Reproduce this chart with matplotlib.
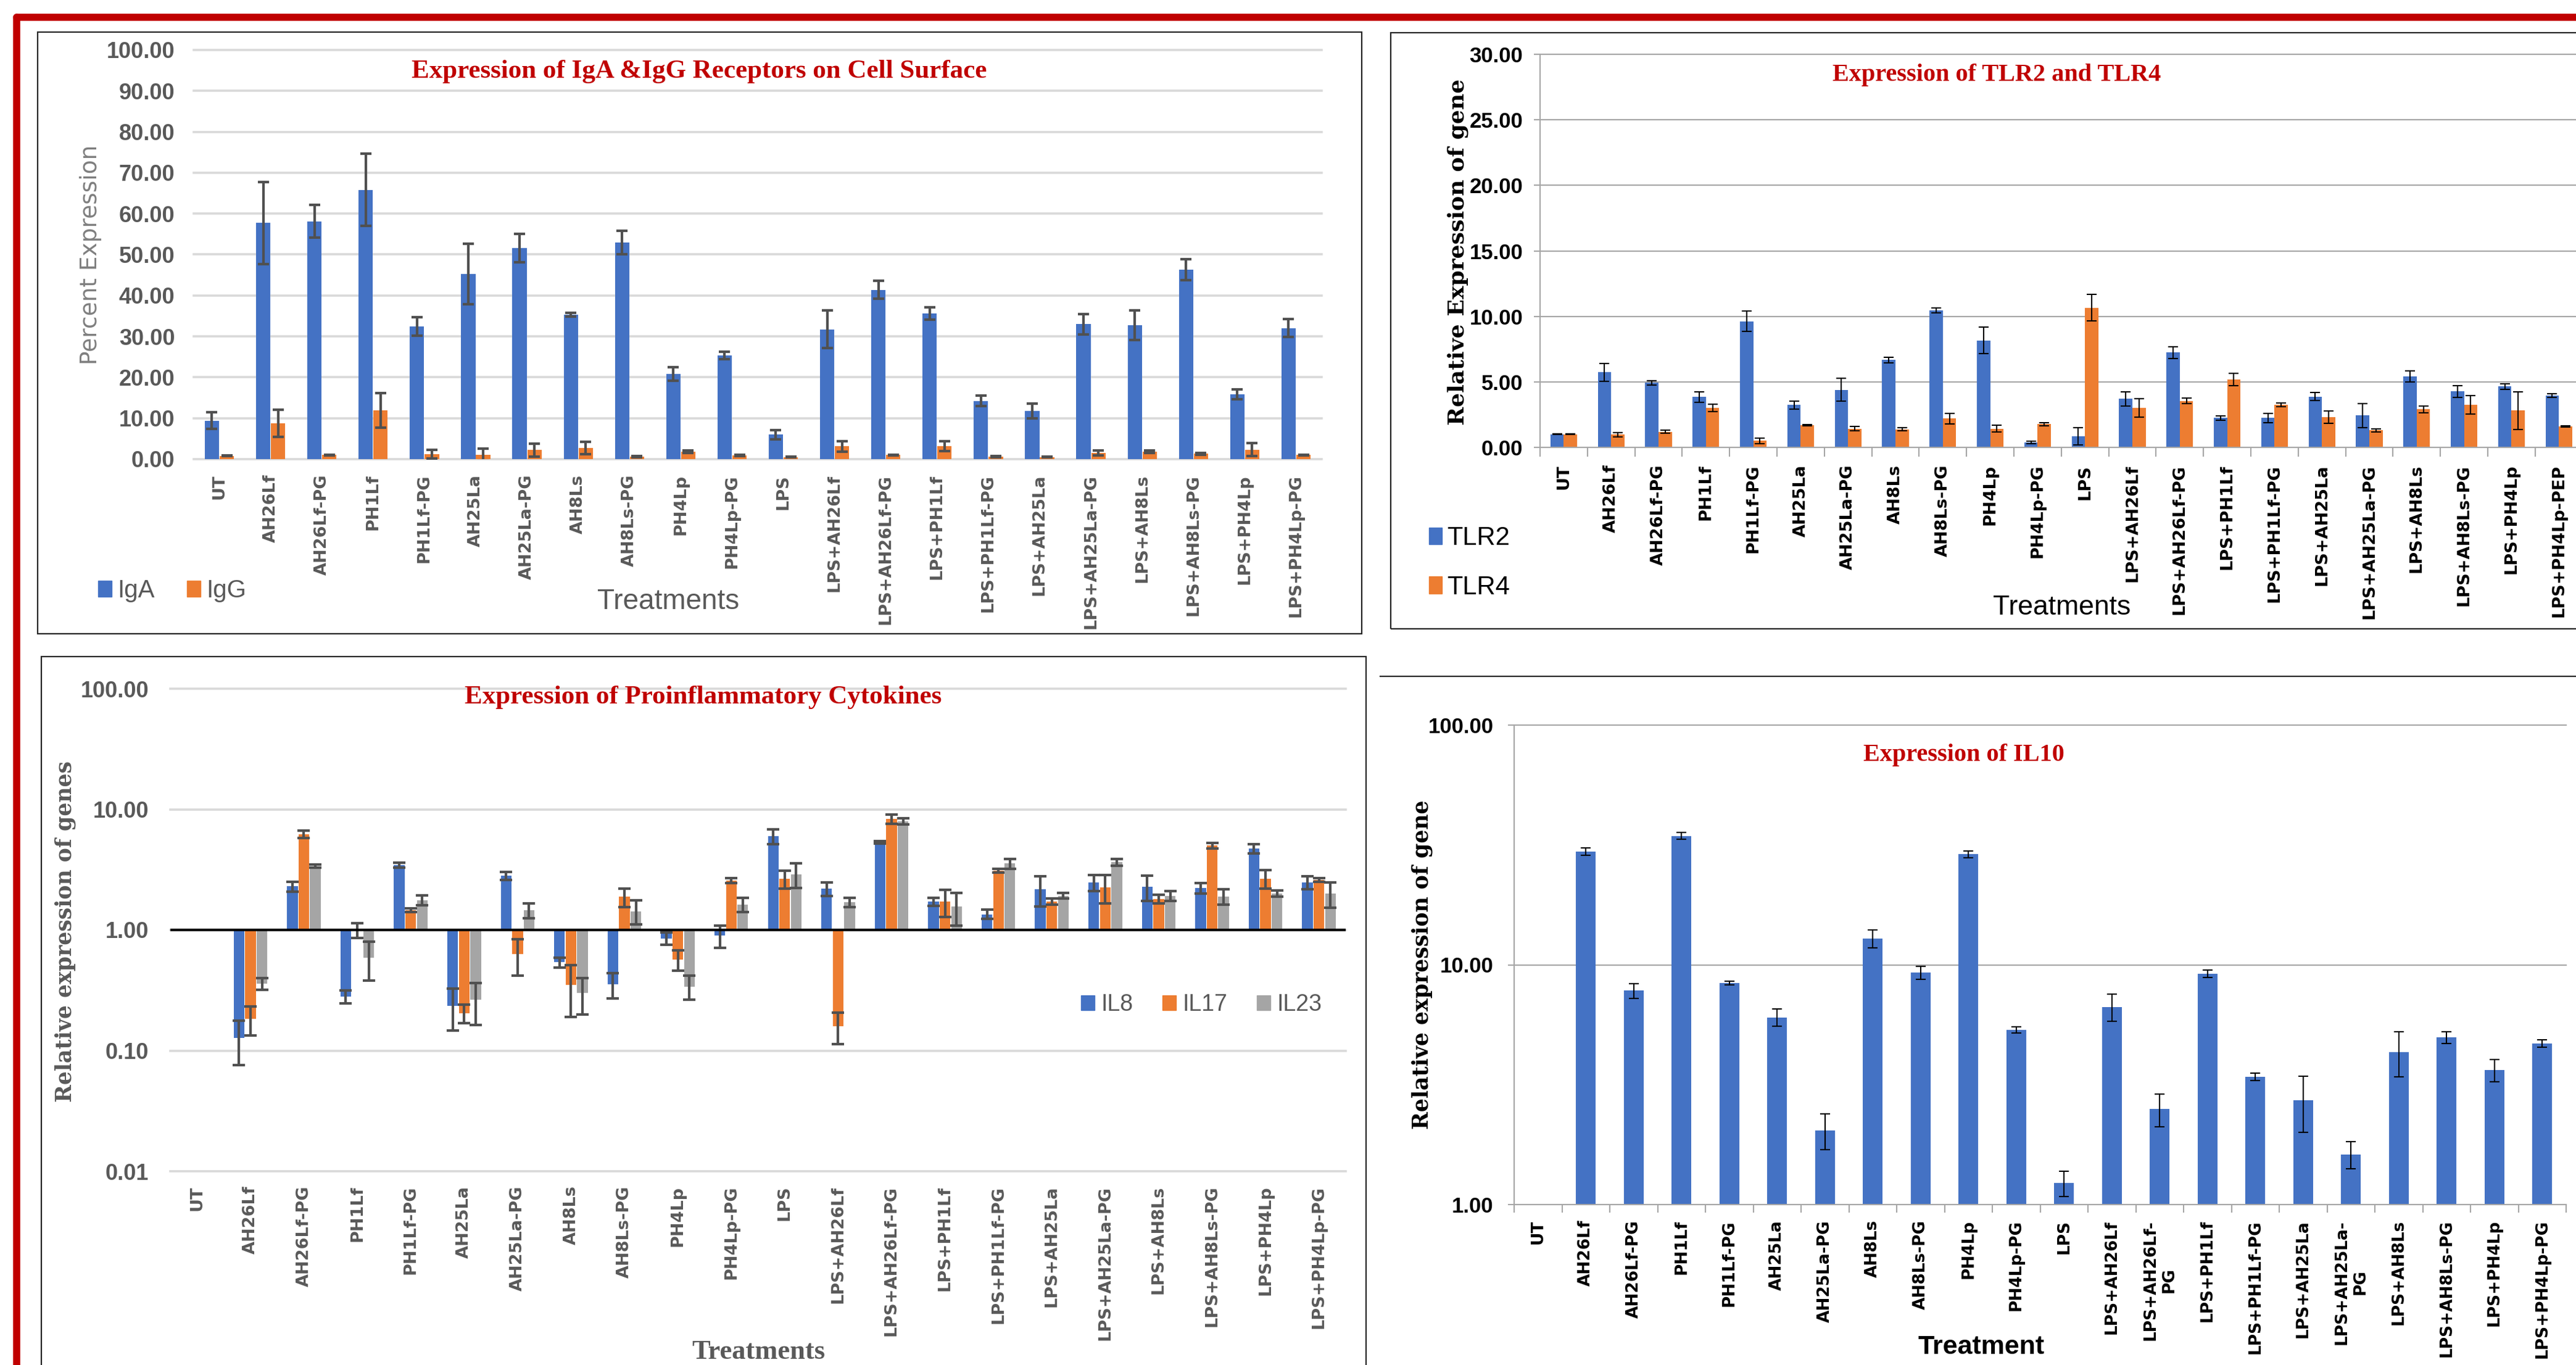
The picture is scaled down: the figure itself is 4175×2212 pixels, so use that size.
import numpy as np
import matplotlib
matplotlib.use("Agg")
import matplotlib.pyplot as plt
from matplotlib.patches import Patch, Rectangle
from matplotlib.lines import Line2D
from matplotlib.ticker import NullLocator, FixedLocator

# treatment groups (x axis of every panel)
treatments = ['UT', 'AH26Lf', 'AH26Lf-PG', 'PH1Lf', 'PH1Lf-PG', 'AH25La', 'AH25La-PG',
              'AH8Ls', 'AH8Ls-PG', 'PH4Lp', 'PH4Lp-PG', 'LPS', 'LPS+AH26Lf',
              'LPS+AH26Lf-PG', 'LPS+PH1Lf', 'LPS+PH1Lf-PG', 'LPS+AH25La',
              'LPS+AH25La-PG', 'LPS+AH8Ls', 'LPS+AH8Ls-PG', 'LPS+PH4Lp', 'LPS+PH4Lp-PG']
treatments_tlr = treatments[:-1] + ['LPS+PH4Lp-PEP']
treatments_il10 = [t.replace('LPS+AH26Lf-PG', 'LPS+AH26Lf-\nPG').replace('LPS+AH25La-PG', 'LPS+AH25La-\nPG')
                   for t in treatments]

# IgA / IgG receptors (percent expression)
iga = [9.4, 57.7, 58.1, 65.8, 32.4, 45.3, 51.6, 35.3, 52.9, 20.8, 25.4, 6.0, 31.7, 41.4,
       35.6, 14.2, 11.8, 33.0, 32.7, 46.3, 15.9, 32.0]
iga_err = [2.0, 10.0, 4.0, 8.8, 2.3, 7.4, 3.5, 0.5, 2.9, 1.6, 0.9, 1.1, 4.6, 2.2, 1.5, 1.3,
           1.8, 2.5, 3.6, 2.5, 1.2, 2.2]
igg = [0.8, 8.7, 1.0, 11.9, 1.2, 1.0, 2.2, 2.7, 0.6, 1.8, 0.9, 0.5, 3.1, 1.0, 3.2, 0.6,
       0.5, 1.5, 1.8, 1.3, 2.3, 1.0]
igg_err = [0.1, 3.3, 0.1, 4.2, 1.0, 1.5, 1.6, 1.5, 0.1, 0.3, 0.1, 0.1, 1.3, 0.1, 1.2, 0.1,
           0.1, 0.6, 0.3, 0.2, 1.6, 0.1]

# TLR2 / TLR4 relative expression
tlr2 = [1.0, 5.74, 4.93, 3.84, 9.63, 3.24, 4.40, 6.67, 10.45, 8.17, 0.37, 0.84, 3.71, 7.23,
        2.24, 2.24, 3.87, 2.43, 5.43, 4.27, 4.65, 3.96]
tlr2_err = [0.03, 0.68, 0.15, 0.40, 0.78, 0.30, 0.87, 0.20, 0.20, 1.00, 0.10, 0.65, 0.55,
            0.45, 0.15, 0.35, 0.30, 0.90, 0.43, 0.45, 0.20, 0.15]
tlr4 = [1.0, 0.97, 1.20, 3.02, 0.50, 1.68, 1.43, 1.37, 2.21, 1.43, 1.78, 10.66, 3.02, 3.55,
        5.18, 3.24, 2.31, 1.31, 2.90, 3.24, 2.81, 1.62]
tlr4_err = [0.03, 0.15, 0.10, 0.30, 0.22, 0.05, 0.15, 0.12, 0.40, 0.25, 0.12, 1.00, 0.70,
            0.20, 0.45, 0.15, 0.45, 0.12, 0.25, 0.70, 1.43, 0.05]

# proinflammatory cytokines (log scale, UT = 1)
il8 = [1.0, 0.127, 2.3, 0.28, 3.45, 0.236, 2.82, 0.54, 0.355, 0.85, 0.9, 6.0, 2.2, 5.33,
       1.71, 1.35, 2.17, 2.47, 2.28, 2.23, 4.73, 2.47]
il8_err = [0, 0.051, 0.22, 0.035, 0.15, 0.09, 0.21, 0.05, 0.085, 0.1, 0.19, 0.85, 0.28, 0.1,
           0.13, 0.12, 0.6, 0.38, 0.55, 0.23, 0.42, 0.3]
il17 = [1.0, 0.183, 6.2, 1.0, 1.46, 0.205, 0.63, 0.35, 1.88, 0.57, 2.58, 2.66, 0.16, 8.3,
        1.71, 3.1, 1.72, 2.25, 1.8, 5.0, 2.67, 2.6]
il17_err = [0, 0.049, 0.45, 0.14, 0.05, 0.036, 0.21, 0.16, 0.33, 0.11, 0.12, 0.45, 0.047,
            0.75, 0.43, 0.1, 0.1, 0.6, 0.15, 0.25, 0.46, 0.1]
il23 = [1.0, 0.36, 3.37, 0.59, 1.77, 0.263, 1.45, 0.3, 1.43, 0.34, 1.63, 2.9, 1.7, 7.97,
        1.56, 3.55, 1.92, 3.64, 1.92, 1.9, 2.0, 2.0]
il23_err = [0, 0.04, 0.1, 0.21, 0.17, 0.1, 0.2, 0.1, 0.32, 0.077, 0.22, 0.67, 0.15, 0.5,
            0.47, 0.33, 0.1, 0.24, 0.19, 0.28, 0.12, 0.47]

# IL10 (log scale)
il10 = [1.0, 29.7, 7.8, 34.5, 8.41, 6.04, 2.04, 12.9, 9.27, 28.9, 5.35, 1.23, 6.68, 2.5,
        9.2, 3.42, 2.72, 1.62, 4.33, 4.99, 3.64, 4.71]
il10_err = [0, 1.0, 0.55, 1.1, 0.15, 0.5, 0.35, 1.1, 0.57, 1.0, 0.15, 0.15, 0.85, 0.39,
            0.33, 0.12, 0.72, 0.21, 0.92, 0.28, 0.39, 0.17]

BLUE = '#4472C4'
ORANGE = '#ED7D31'
GREY = '#A5A5A5'
RED = '#C00000'
DARK = '#595959'
NARROW = ['Liberation Sans Narrow', 'Liberation Sans', 'DejaVu Sans']

W, H = 4175, 2212
fig = plt.figure(figsize=(W / 100, H / 100), dpi=100)


def fx(x):
    return x / W


def fy(y):
    return 1 - y / H


def axes_px(x0, y0, x1, y1):
    return fig.add_axes([x0 / W, 1 - y1 / H, (x1 - x0) / W, (y1 - y0) / H])


def box_px(x0, y0, x1, y1):
    fig.add_artist(Rectangle((fx(x0), fy(y1)), (x1 - x0) / W, (y1 - y0) / H, fill=False,
                             edgecolor='#262626', lw=1.6, transform=fig.transFigure))


def xlabels(ax, labels, color, pad, size=19.5):
    ax.set_xticks(np.arange(len(labels)))
    ax.set_xticklabels(labels, rotation=90, fontsize=size, fontweight='bold', color=color,
                       family='DejaVu Sans', va='top', ha='center', multialignment='center')
    ax.tick_params(axis='x', length=0, pad=pad)


def ylabels(ax, ticks, color, size):
    ax.yaxis.set_major_locator(FixedLocator(ticks))
    ax.yaxis.set_minor_locator(NullLocator())
    ax.set_yticklabels(['%.2f' % t for t in ticks], fontsize=size, fontweight='bold',
                       color=color, family=NARROW)


x = np.arange(len(treatments))

# red frame
fig.add_artist(Line2D([fx(27), fx(27)], [fy(28), fy(2400)], color=RED, lw=8.3,
                      solid_capstyle='round', transform=fig.transFigure))
fig.add_artist(Line2D([fx(27), fx(4400)], [fy(28), fy(28)], color=RED, lw=8.3,
                      solid_capstyle='round', transform=fig.transFigure))

# ---------------- IgA / IgG ----------------
box_px(61, 52, 2207, 1027)
axA = axes_px(314, 81, 2142, 744)
axA.bar(x - 0.145, iga, 0.28, color=BLUE, zorder=2)
axA.bar(x + 0.145, igg, 0.28, color=ORANGE, zorder=2)
ek = dict(fmt='none', ecolor='#505050', elinewidth=3, capsize=6.8, capthick=3, zorder=3)
axA.errorbar(x - 0.145, iga, yerr=iga_err, **ek)
axA.errorbar(x + 0.145, igg, yerr=igg_err, **ek)
axA.set_xlim(-0.5, 21.5)
axA.set_ylim(0, 100)
ylabels(axA, np.arange(0, 101, 10), DARK, 26)
axA.tick_params(axis='y', length=0, pad=22)
xlabels(axA, treatments, DARK, 18)
axA.yaxis.grid(True, color='#d9d9d9', lw=2.6)
axA.set_axisbelow(True)
for gl in axA.get_ygridlines():
    gl.set_clip_on(False)
for s in axA.spines.values():
    s.set_visible(False)
fig.text(fx(1133), fy(116), 'Expression of IgA &IgG Receptors on Cell Surface', ha='center',
         va='center', fontsize=31, fontweight='bold', color=RED, family='Liberation Serif')
fig.text(fx(147), fy(413), 'Percent Expression', rotation=90, ha='center', va='center',
         fontsize=27, color='#7f7f7f', family='DejaVu Sans')
fig.text(fx(1083), fy(975), 'Treatments', ha='center', va='center', fontsize=33,
         color=DARK, family=NARROW)
fig.legend([Patch(color=BLUE), Patch(color=ORANGE)], ['IgA', 'IgG'], loc='center left',
           bbox_to_anchor=(fx(159), fy(957)), ncol=2, frameon=False, borderpad=0,
           borderaxespad=0, handlelength=0.55, handleheight=0.6, handletextpad=0.22,
           columnspacing=1.3, prop={'family': NARROW, 'size': 29}, labelcolor=DARK)

# ---------------- TLR2 / TLR4 ----------------
box_px(2254, 53, 4400, 1019)
axB = axes_px(2496, 88, 2496 + 22 * 76.8, 725)
axB.bar(x - 0.14, tlr2, 0.28, color=BLUE, zorder=2)
axB.bar(x + 0.14, tlr4, 0.28, color=ORANGE, zorder=2)
ek = dict(fmt='none', ecolor='black', elinewidth=1.5, capsize=5.8, capthick=1.5, zorder=3)
axB.errorbar(x - 0.14, tlr2, yerr=tlr2_err, **ek)
axB.errorbar(x + 0.14, tlr4, yerr=tlr4_err, **ek)
axB.set_xlim(-0.5, 21.5)
axB.set_ylim(0, 30)
ylabels(axB, np.arange(0, 31, 5), 'black', 25)
axB.tick_params(axis='y', length=7, width=1.5, color='#a6a6a6', pad=13)
xlabels(axB, treatments_tlr, 'black', 20)
axB.xaxis.set_minor_locator(FixedLocator(np.arange(-0.5, 22, 1)))
axB.tick_params(axis='x', which='minor', length=11, width=1.5, color='#a6a6a6')
axB.yaxis.grid(True, color='#a6a6a6', lw=1.5)
axB.set_axisbelow(True)
for gl in axB.get_ygridlines():
    gl.set_clip_on(False)
for k in ['top', 'right']:
    axB.spines[k].set_visible(False)
for k in ['left', 'bottom']:
    axB.spines[k].set_color('#a6a6a6')
    axB.spines[k].set_linewidth(1.5)
fig.text(fx(3236), fy(121), 'Expression of TLR2 and TLR4', ha='center', va='center',
         fontsize=29, fontweight='bold', color=RED, family='Liberation Serif')
fig.text(fx(2363), fy(408), 'Relative Expression of gene', rotation=90, ha='center',
         va='center', fontsize=26, fontweight='bold', color='black', family='DejaVu Serif')
fig.text(fx(3342), fy(985), 'Treatments', ha='center', va='center', fontsize=32,
         color='black', family=NARROW)
fig.legend([Patch(color=BLUE), Patch(color=ORANGE)], ['TLR2', 'TLR4'], loc='center left',
           bbox_to_anchor=(fx(2316), fy(912)), ncol=1, frameon=False, borderpad=0,
           borderaxespad=0, handlelength=0.5, handleheight=0.65, handletextpad=0.2,
           labelspacing=0.95, prop={'family': NARROW, 'size': 30}, labelcolor='black')

# ---------------- proinflammatory cytokines ----------------
box_px(67, 1064, 2214, 2400)
axC = axes_px(276, 1116, 2181, 1898)
axC.set_yscale('log')
ek = dict(fmt='none', ecolor='#505050', elinewidth=3, capsize=7, capthick=3, zorder=3)
for vals, errs, off, col in [(il8, il8_err, -0.215, BLUE), (il17, il17_err, 0.0, ORANGE),
                             (il23, il23_err, 0.215, GREY)]:
    v = np.array(vals)
    axC.bar(x + off, v - 1, 0.2, bottom=1, color=col, zorder=2)
    e = np.array(errs)
    m = e > 0
    axC.errorbar((x + off)[m], v[m], yerr=e[m], **ek)
axC.axhline(1, color='black', lw=3, zorder=4)
axC.set_xlim(-0.5, 21.5)
axC.set_ylim(0.01, 100)
ylabels(axC, [0.01, 0.1, 1, 10, 100], DARK, 26)
axC.tick_params(axis='y', which='both', length=0, pad=25)
xlabels(axC, treatments, DARK, 17)
axC.yaxis.grid(True, color='#d9d9d9', lw=2.6)
axC.set_axisbelow(True)
for gl in axC.get_ygridlines():
    gl.set_clip_on(False)
for s in axC.spines.values():
    s.set_visible(False)
fig.text(fx(1140), fy(1130), 'Expression of Proinflammatory Cytokines', ha='center',
         va='center', fontsize=31, fontweight='bold', color=RED, family='Liberation Serif')
fig.text(fx(106), fy(1509), 'Relative expression of genes', rotation=90, ha='center',
         va='center', fontsize=25, fontweight='bold', color=DARK, family='DejaVu Serif')
fig.text(fx(1229), fy(2191), 'Treatments', ha='center', va='center', fontsize=32,
         fontweight='bold', color=DARK, family='Liberation Serif')
fig.legend([Patch(color=BLUE), Patch(color=ORANGE), Patch(color=GREY)], ['IL8', 'IL17', 'IL23'],
           loc='center left', bbox_to_anchor=(fx(1752), fy(1628)), ncol=3, frameon=False,
           borderpad=0, borderaxespad=0, handlelength=0.58, handleheight=0.62,
           handletextpad=0.3, columnspacing=1.25, prop={'family': NARROW, 'size': 27},
           labelcolor=DARK)

# ---------------- IL10 ----------------
fig.add_artist(Line2D([fx(2237), fx(4400)], [fy(1096), fy(1096)], color='#262626', lw=1.6,
                      transform=fig.transFigure))
axD = axes_px(2454, 1175, 2454 + 22 * 77.5, 1952)
axD.set_yscale('log')
v = np.array(il10)
axD.bar(x, v - 1, 0.41, bottom=1, color=BLUE, zorder=2)
e = np.array(il10_err)
m = e > 0
axD.errorbar(x[m], v[m], yerr=e[m], fmt='none', ecolor='black', elinewidth=1.5,
             capsize=6, capthick=1.5, zorder=3)
axD.set_xlim(-0.5, 21.5)
axD.set_ylim(1, 100)
ylabels(axD, [1, 10, 100], 'black', 25)
axD.tick_params(axis='y', which='major', length=7, width=1.5, color='#a6a6a6', pad=17)
xlabels(axD, treatments_il10, 'black', 18, size=19)
axD.xaxis.set_minor_locator(FixedLocator(np.arange(-0.5, 22, 1)))
axD.tick_params(axis='x', which='minor', length=9, width=1.5, color='#a6a6a6')
axD.yaxis.grid(True, which='major', color='#a6a6a6', lw=1.5)
axD.set_axisbelow(True)
for gl in axD.get_ygridlines():
    gl.set_clip_on(False)
for k in ['top', 'right']:
    axD.spines[k].set_visible(False)
for k in ['left', 'bottom']:
    axD.spines[k].set_color('#a6a6a6')
    axD.spines[k].set_linewidth(1.5)
fig.text(fx(3183), fy(1223), 'Expression of IL10', ha='center', va='center', fontsize=29,
         fontweight='bold', color=RED, family='Liberation Serif')
fig.text(fx(2305), fy(1563), 'Relative expression of gene', rotation=90, ha='center',
         va='center', fontsize=25, fontweight='bold', color='black', family='DejaVu Serif')
fig.text(fx(3211), fy(2183), 'Treatment', ha='center', va='center', fontsize=31,
         fontweight='bold', color='black', family=NARROW)

fig.savefig('out.png', dpi=100)
